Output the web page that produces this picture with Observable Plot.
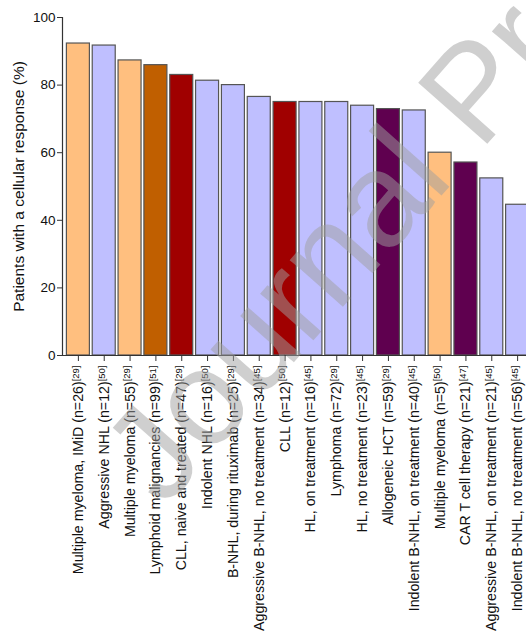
<!DOCTYPE html>
<html>
<head>
<meta charset="utf-8">
<script src="https://cdn.jsdelivr.net/npm/d3@7"></script>
<script src="https://cdn.jsdelivr.net/npm/@observablehq/plot@0.6"></script>
<style>
  html, body { margin: 0; padding: 0; background: #fff; overflow: hidden; width: 526px; height: 637px; }
  #chart svg { max-width: none !important; display: block; }
</style>
</head>
<body>
<div id="chart"></div>
<script>
const categories = [
  "Multiple myeloma, IMiD (n=26)",
  "Aggressive NHL (n=12)",
  "Multiple myeloma (n=55)",
  "Lymphoid malignancies (n=99)",
  "CLL, naive and treated (n=47)",
  "Indolent NHL (n=16)",
  "B-NHL, during rituximab (n=25)",
  "Aggressive B-NHL, no treatment (n=34)",
  "CLL (n=12)",
  "HL, on treatment (n=16)",
  "Lymphoma (n=72)",
  "HL, no treatment (n=23)",
  "Allogeneic HCT (n=59)",
  "Indolent B-NHL, on treatment (n=40)",
  "Multiple myeloma (n=5)",
  "CAR T cell therapy (n=21)",
  "Aggressive B-NHL, on treatment (n=21)",
  "Indolent B-NHL, no treatment (n=56)"
];
const references = ["29","50","29","51","29","50","29","45","50","45","29","45","29","45","50","47","45","45"];
const values = [92.3, 91.7, 87.3, 85.9, 83.0, 81.3, 80.0, 76.5, 75.0, 75.0, 75.0, 73.9, 72.9, 72.5, 60.0, 57.1, 52.4, 44.6];
const groups = ["Myeloma", "NHL", "Myeloma", "Lymphoid", "CLL", "NHL", "NHL", "NHL", "CLL", "NHL", "NHL", "NHL", "Cell therapy", "NHL", "Myeloma", "Cell therapy", "NHL", "NHL"];
const groupDomain = ["Myeloma", "NHL", "Lymphoid", "CLL", "Cell therapy"];
const groupColors = ["#FFBF7F", "#BFBFFF", "#C05F00", "#A00000", "#5F004F"];
const yTicks = [0, 20, 40, 60, 80, 100];
const yLabel = "Patients with a cellular response (%)";
const watermark = "Journal Pre-proof";

const data = categories.map((c, i) => ({label: c, ref: references[i], value: values[i], group: groups[i]}));
const font = "'Liberation Sans', Arial, Helvetica, sans-serif";

const svg = Plot.plot({
  width: 540,
  height: 637,
  marginLeft: 62,
  marginTop: 17,
  marginBottom: 282,
  marginRight: 7,
  style: {fontFamily: font, color: "#111", background: "white"},
  x: {domain: categories, paddingInner: 0.11, paddingOuter: 0.17, round: false, label: null},
  y: {domain: [0, 100], label: null},
  color: {domain: groupDomain, range: groupColors},
  marks: [
    Plot.barY(data, {x: "label", y: "value", fill: "group", stroke: "#555", strokeWidth: 1.2}),
    Plot.ruleY([0], {stroke: "#333", strokeWidth: 1.2}),
    Plot.frame({anchor: "left", stroke: "#333", strokeWidth: 1.2}),
    Plot.axisY({ticks: yTicks, tickSize: 5, tickPadding: 2, fontSize: 13.5, stroke: "#333",
      label: yLabel, labelAnchor: "center", labelArrow: "none", labelOffset: 50}),
    Plot.axisX({tickRotate: -90, tickSize: 6, tickPadding: 4, fontSize: 14.2, label: null, stroke: "#333"})
  ]
});

// larger y-axis title
d3.select(svg).selectAll('g[aria-label="y-axis label"] text').attr("font-size", 15.5);

// superscript reference numbers on the x tick labels
d3.select(svg).selectAll('g[aria-label="x-axis tick label"] text').each(function(d, i) {
  d3.select(this).append("tspan")
    .attr("dy", "-0.45em")
    .attr("font-size", 9.5)
    .text("[" + references[i] + "]");
});

// watermark overlay
d3.select(svg).append("text")
  .attr("transform", "translate(164,509) rotate(-48.5)")
  .attr("text-anchor", "start")
  .attr("font-size", 134)
  .attr("font-family", font)
  .attr("fill", "#a0a0a0")
  .attr("fill-opacity", 0.5)
  .text(watermark);

document.getElementById("chart").appendChild(svg);
</script>
</body>
</html>
